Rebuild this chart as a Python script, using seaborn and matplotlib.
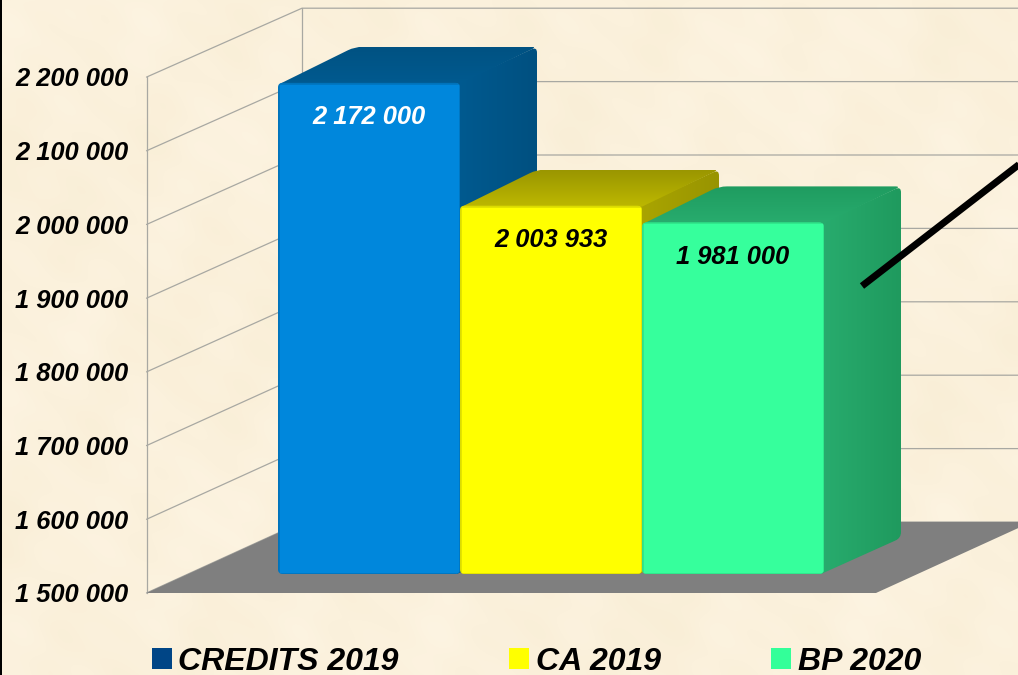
import numpy as np
import matplotlib
matplotlib.use("Agg")
import matplotlib.pyplot as plt
import seaborn as sns
from matplotlib.patches import Patch, Polygon, Rectangle, FancyBboxPatch
from matplotlib.path import Path
from matplotlib.colors import to_rgb
from matplotlib.transforms import IdentityTransform

# ---- data ----
categories = ["CREDITS 2019", "CA 2019", "BP 2020"]
values = [2172000, 2003933, 1981000]
value_labels = ["2 172 000", "2 003 933", "1 981 000"]
label_colors = ["white", "black", "black"]
tick_values = [1500000, 1600000, 1700000, 1800000, 1900000, 2000000, 2100000, 2200000]
tick_labels = ["1 500 000", "1 600 000", "1 700 000", "1 800 000",
               "1 900 000", "2 000 000", "2 100 000", "2 200 000"]
base_value = 1500000
front_colors = ["#0087dc", "#ffff00", "#36ff9c"]
edge_colors = ["#0073ba", "#dcdc00", "#2fe088"]
legend_colors = ["#004586", "#ffff00", "#33ff99"]
side_grad = [("#005a90", "#005080"), ("#aaa500", "#989400"), ("#28ac6e", "#1f9a5e")]
top_grad = [("#005a90", "#005282"), ("#bdb800", "#9a9600"), ("#28ac6e", "#1f9c60")]

# ---- page geometry (pixels, from the top-left corner) ----
W, H = 1018, 675
PX_PER_UNIT = 0.000731
WALL_PX_PER_UNIT = 0.000737
BACK_PX_PER_UNIT = 0.000734
BAR_LEFT, BAR_W, BAR_BASE = 278, 182, 574
DEPTH_X, DEPTH_Y = 77, 36
WALL_L, WALL_B, WALL_T = 146.5, 593, 77
BACK_X, BACK_B = 302, 522
FLOOR_R = 876

sns.set_style("white")
plt.rcParams["font.family"] = ["Liberation Sans", "DejaVu Sans"]
fig = plt.figure(figsize=(W / 100, H / 100), dpi=100)

# ---- parchment background ----
bg = fig.add_axes([0, 0, 1, 1], zorder=0)
yy, xx = np.mgrid[0:H, 0:W]
tex = (np.sin(xx / 23.0 + 1.3) * np.sin(yy / 31.0 + 0.4)
       + 0.5 * np.sin(xx / 61.0 + yy / 47.0)
       + 0.7 * np.sin(xx / 11.0 - yy / 17.0 + 2.1) * np.sin(yy / 13.0)
       + 0.5 * np.sin(xx / 97.0 - yy / 71.0 + 0.7))
img = np.zeros((H, W, 3))
for k, (c, amp) in enumerate(zip((251, 241, 220), (0.8, 1.2, 2.4))):
    img[..., k] = (c + amp * tex) / 255
bg.imshow(img, aspect="auto", extent=(0, W, H, 0))
bg.set_axis_off()
fig.add_artist(Rectangle((0, 0), 2 / W, 1, transform=fig.transFigure, color="black", lw=0))

# ---- value axis along the front of the left wall ----
ax2 = fig.add_axes([WALL_L / W, 1 - WALL_B / H, 3 / W, (WALL_B - WALL_T) / H], zorder=1)
ax2.patch.set_alpha(0)
ax2.set_ylim(base_value, 2200000)
ax2.set_xticks([])
ax2.set_yticks(tick_values, labels=tick_labels)
ax2.tick_params(axis="y", length=0, pad=13.2)
for t in ax2.get_yticklabels():
    t.set_fontsize(18.4)
    t.set_fontweight("bold")
    t.set_fontstyle("italic")
    t.set_color("black")
for s in ("top", "right", "bottom"):
    ax2.spines[s].set_visible(False)
ax2.spines["left"].set_color("#a8a8a2")
ax2.spines["left"].set_linewidth(0.9)

# ---- main plot, front plane of the bars ----
ax = fig.add_axes([0, 0, 1, 1], zorder=2)
sns.barplot(x=categories, y=values, hue=categories, palette=front_colors, width=1,
            dodge=False, saturation=1, legend=False, ax=ax)
ax.set_xlim((0 - BAR_LEFT) / BAR_W - 0.5, (W - BAR_LEFT) / BAR_W - 0.5)
ax.set_ylim(base_value + (BAR_BASE - H) / PX_PER_UNIT, base_value + BAR_BASE / PX_PER_UNIT)
ax.set_axis_off()


def to_data(points):
    """pixels from top-left to data coordinates"""
    pts = np.asarray(points, float).copy()
    pts[:, 1] = H - pts[:, 1]
    return ax.transData.inverted().transform(pts)


def to_pix(x, y):
    p = ax.transData.transform((x, y))
    return p[0], H - p[1]


# floor
floor = [(WALL_L, WALL_B), (FLOOR_R, WALL_B), (FLOOR_R + BACK_X - WALL_L, BACK_B), (BACK_X, BACK_B)]
ax.add_patch(Polygon(to_data(floor), closed=True, fc="#7f7f7f", ec="none", zorder=2))

# wall grid
GRID = "#a8a8a2"
for v in tick_values:
    y_front = WALL_B - (v - base_value) * WALL_PX_PER_UNIT
    y_back = BACK_B - (v - base_value) * BACK_PX_PER_UNIT
    a = to_data([(WALL_L, y_front), (BACK_X, y_back), (W, y_back)])
    ax.plot(a[:, 0], a[:, 1], color=GRID, lw=0.9, zorder=1, solid_joinstyle="miter")
a = to_data([(BACK_X, BACK_B - 700000 * BACK_PX_PER_UNIT), (BACK_X, BACK_B)])
ax.plot(a[:, 0], a[:, 1], color=GRID, lw=0.9, zorder=1)


def rounded(pts, radii):
    """closed path in data coordinates, each pixel vertex rounded by its own radius"""
    pts = [np.array(p, float) for p in pts]
    verts, codes = [], []
    n = len(pts)
    for i, (p, r) in enumerate(zip(pts, radii)):
        prev, nxt = pts[i - 1], pts[(i + 1) % n]
        a = p + (prev - p) / np.linalg.norm(prev - p) * r
        b = p + (nxt - p) / np.linalg.norm(nxt - p) * r
        verts += [a, p, b]
        codes += [Path.MOVETO if i == 0 else Path.LINETO, Path.CURVE3, Path.CURVE3]
    verts.append(verts[0])
    codes.append(Path.CLOSEPOLY)
    return Path(to_data(verts), codes)


def gradient_face(pts, radii, colors, horizontal, z):
    path = rounded(pts, radii)
    c0, c1 = np.array(to_rgb(colors[0])), np.array(to_rgb(colors[1]))
    t = np.linspace(0, 1, 64)
    arr = np.outer(t, c1 - c0) + c0
    arr = arr[None, :, :] if horizontal else arr[:, None, :]
    d = path.vertices
    im = ax.imshow(arr, aspect="auto", origin="lower", zorder=z,
                   extent=(d[:, 0].min(), d[:, 0].max(), d[:, 1].min(), d[:, 1].max()))
    im.set_clip_path(path, transform=ax.transData)


xlim, ylim = ax.get_xlim(), ax.get_ylim()

bars = sorted([p for p in ax.patches if isinstance(p, Rectangle)], key=lambda p: p.get_x())
for i, (bar, val) in enumerate(zip(bars, values)):
    bar.set_y(base_value)
    bar.set_height(val - base_value)
    zb = 10 + 3 * i
    l, top = to_pix(bar.get_x(), val)
    r, bot = to_pix(bar.get_x() + bar.get_width(), base_value)
    # side and top faces recede from the front rectangle
    gradient_face([(r - 3, top + 1), (r + DEPTH_X, top - DEPTH_Y), (r + DEPTH_X, bot - DEPTH_Y), (r - 3, bot)],
                  [0.01, 6, 6, 0.01], side_grad[i], True, zb)
    gradient_face([(l + 2, top + 1), (l + DEPTH_X, top - DEPTH_Y), (r + DEPTH_X, top - DEPTH_Y), (r, top + 1)],
                  [0.01, 8, 6, 0.01], top_grad[i], False, zb + 1)
    # front face
    bar.set_zorder(zb + 2)
    bar.set_edgecolor(edge_colors[i])
    bar.set_linewidth(1.8)
    clip = FancyBboxPatch((l + 5, H - bot + 5), r - l - 10, bot - top - 10,
                          boxstyle="round,pad=5,rounding_size=5",
                          transform=IdentityTransform())
    bar.set_clip_path(clip)
    ax.annotate(value_labels[i], (bar.get_x() + bar.get_width() / 2, val), xytext=(-0.5, -34.5),
                textcoords="offset pixels", ha="center", va="center",
                fontsize=18.4, fontweight="bold", fontstyle="italic",
                color=label_colors[i], zorder=30)

# heavy black stroke crossing the right-hand side
a = to_data([(862, 286), (1030, 156)])
ax.plot(a[:, 0], a[:, 1], color="black", lw=5, solid_capstyle="butt", zorder=40)

ax.set_xlim(xlim)
ax.set_ylim(ylim)

# legend
handles = [Patch(fc=c, ec="none", label=n) for c, n in zip(legend_colors, categories)]
leg = fig.legend(handles=handles, loc="center left", bbox_to_anchor=(152 / W, 1 - 661.5 / H),
                 ncol=3, frameon=False, borderpad=0, borderaxespad=0,
                 handlelength=0.62, handleheight=0.62, handletextpad=0.2, columnspacing=3.47,
                 prop={"size": 23, "weight": "bold", "style": "italic"})
for t in leg.get_texts():
    t.set_color("black")

fig.savefig("out.png", dpi=100)
